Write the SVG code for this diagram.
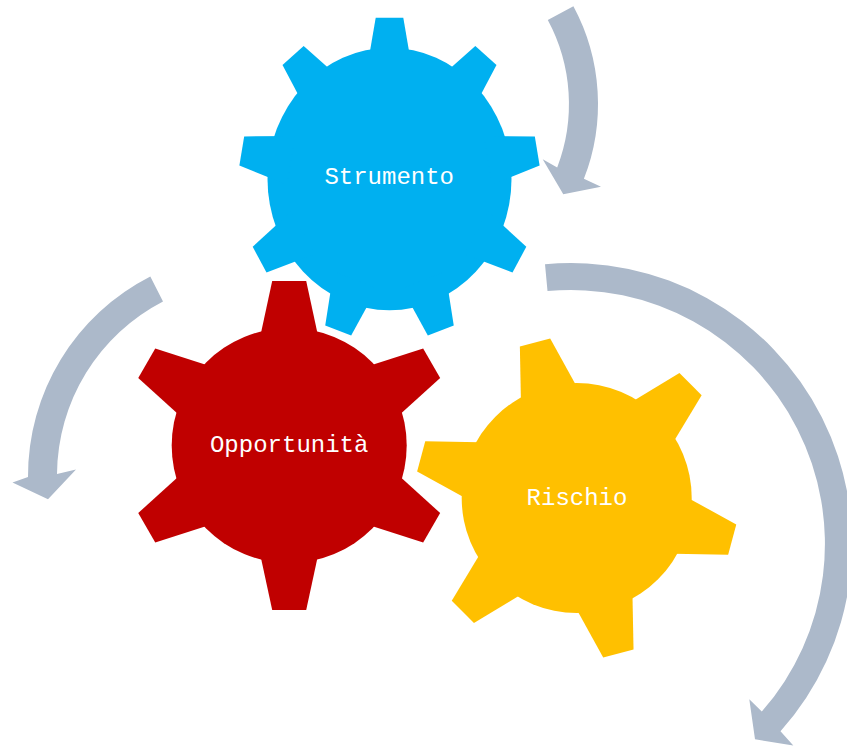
<svg xmlns="http://www.w3.org/2000/svg" width="847" height="747" viewBox="0 0 847 747">
<defs>
<style>
.arrow{fill:#ACB9CA;stroke:none}
.blue{fill:#00B0F0}
.red{fill:#C00000}
.yellow{fill:#FFC000}
.lbl{font-family:"Liberation Mono","Courier New",monospace;font-size:24px;fill:#FFFFFF;text-anchor:middle}
</style>
<polygon id="toothB" points="-23,-100 -13.8,-150 13.8,-150 23,-100"/>
<polygon id="toothR" points="-32,-95 -17,-164.5 17,-164.5 32,-95"/>
<polygon id="toothY" points="-32,-95 -15.7,-161 15.7,-161 32,-95"/>
</defs>
<rect width="847" height="747" fill="#FFFFFF"/>
<g id="connectors">
<path class="arrow" d="M573.4,6.3 A206,206 0 0 1 583.9,178.8 L601,186.7 L563.3,194.3 L542.7,159.3 L557.2,167.4 A177,177 0 0 0 547.8,20.1 Z"/>
<path class="arrow" d="M150.3,276.4 A224,224 0 0 0 28,477 L12.5,482.5 L48,499.3 L76,469.5 L57,474 A196,196 0 0 1 163,301.4 Z"/>
<path class="arrow" d="M545,264.2 A281,281 0 0 1 780.5,731.3 L793.3,745.5 L755,739.3 L749.3,699.2 L761.8,711.6 A254,254 0 0 0 547.5,291.1 Z"/>
</g>
<g id="strumento">
<g class="blue" transform="translate(389.5,179) scale(1,1.075)">
<circle r="122"/>
<use href="#toothB"/>
<use href="#toothB" transform="rotate(40)"/>
<use href="#toothB" transform="rotate(80)"/>
<use href="#toothB" transform="rotate(120)"/>
<use href="#toothB" transform="rotate(160)"/>
<use href="#toothB" transform="rotate(200)"/>
<use href="#toothB" transform="rotate(240)"/>
<use href="#toothB" transform="rotate(280)"/>
<use href="#toothB" transform="rotate(320)"/>
</g>
<text class="lbl" x="389.2" y="183.5">Strumento</text>
</g>
<g id="opportunita">
<g class="red" transform="translate(289.2,445.5)">
<circle r="117.5"/>
<use href="#toothR"/>
<use href="#toothR" transform="rotate(60)"/>
<use href="#toothR" transform="rotate(120)"/>
<use href="#toothR" transform="rotate(180)"/>
<use href="#toothR" transform="rotate(240)"/>
<use href="#toothR" transform="rotate(300)"/>
</g>
<text class="lbl" x="289.2" y="451.7">Opportunità</text>
</g>
<g id="rischio">
<g class="yellow" transform="translate(576.7,498)">
<circle r="115"/>
<use href="#toothY" transform="rotate(-15)"/>
<use href="#toothY" transform="rotate(45)"/>
<use href="#toothY" transform="rotate(105)"/>
<use href="#toothY" transform="rotate(165)"/>
<use href="#toothY" transform="rotate(225)"/>
<use href="#toothY" transform="rotate(285)"/>
</g>
<text class="lbl" x="577" y="505">Rischio</text>
</g>
</svg>
